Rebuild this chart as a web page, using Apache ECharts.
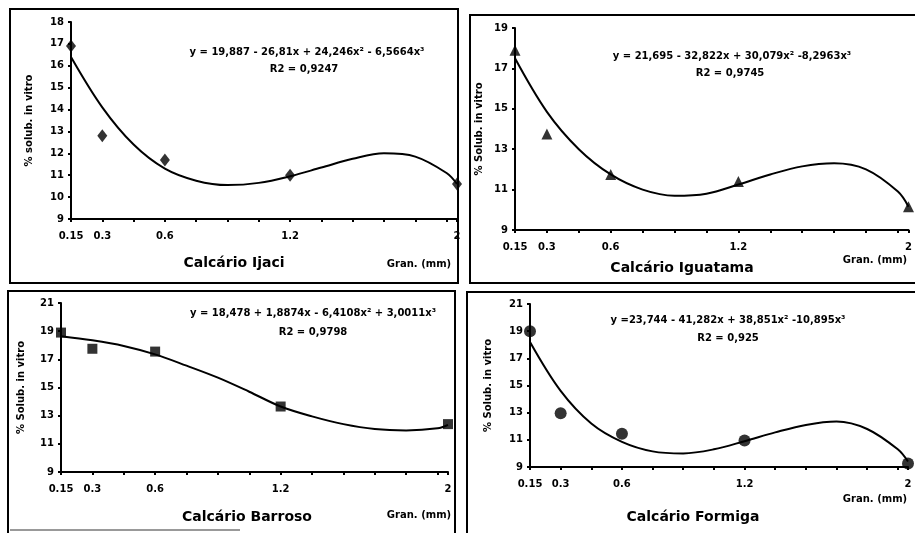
<!DOCTYPE html>
<html>
<head>
<meta charset="utf-8">
<script src="https://cdn.jsdelivr.net/npm/echarts@6/dist/echarts.min.js"></script>
<style>
  html, body { margin: 0; padding: 0; background: #fff; }
  #chart { width: 915px; height: 533px; }
</style>
</head>
<body>
<div id="chart"></div>
<script>
// granulometria (mm) dos pontos observados
const granPts = [0.15, 0.3, 0.6, 1.2, 2];
const ijaciObs = [16.9, 12.8, 11.7, 11.0, 10.6];
const iguatamaObs = [17.9, 13.75, 11.75, 11.4, 10.15];
const barrosoObs = [18.9, 17.75, 17.55, 13.65, 12.4];
const formigaObs = [19.0, 12.95, 11.45, 10.95, 9.25];

// curva ajustada
const fitX = [0.15, 0.3, 0.45, 0.6, 0.75, 0.9, 1.05, 1.2, 1.35, 1.5, 1.65, 1.8, 1.95, 2];
const ijaciFit = [16.4, 14.1, 12.4, 11.3, 10.75, 10.55, 10.65, 10.95, 11.35, 11.75, 12.0, 11.85, 11.1, 10.6];
const iguatamaFit = [17.5, 14.85, 13.0, 11.75, 11.0, 10.7, 10.8, 11.25, 11.75, 12.15, 12.3, 12.0, 10.9, 10.15];
const barrosoFit = [18.64, 18.35, 17.95, 17.35, 16.55, 15.7, 14.7, 13.65, 12.95, 12.4, 12.05, 11.95, 12.1, 12.35];
const formigaFit = [18.2, 14.6, 12.2, 10.85, 10.15, 10.0, 10.3, 10.9, 11.55, 12.1, 12.35, 11.8, 10.3, 9.4];

const xLabels = [0.15, 0.3, 0.6, 1.2, 2];
const titles = ['Calcário Ijaci', 'Calcário Iguatama', 'Calcário Barroso', 'Calcário Formiga'];
const yNames = ['% solub. in vitro', '% Solub. in vitro', '% Solub. in vitro', '% Solub. in vitro'];
const equations = [
  'y = 19,887 - 26,81x + 24,246x² - 6,5664x³',
  'y = 21,695 - 32,822x + 30,079x² -8,2963x³',
  'y = 18,478 + 1,8874x - 6,4108x² + 3,0011x³',
  'y =23,744 - 41,282x + 38,851x² -10,895x³'
];
const r2Texts = ['R2 = 0,9247', 'R2 = 0,9745', 'R2 = 0,9798', 'R2 = 0,925'];

const obsSets = [ijaciObs, iguatamaObs, barrosoObs, formigaObs];
const fitSets = [ijaciFit, iguatamaFit, barrosoFit, formigaFit];

// posicao de cada quadro
const layout = [
  { grid: { left: 71, top: 22, width: 386, height: 197 }, box: [10, 9, 448, 274], yMin: 9, yMax: 18, yInt: 1, gap: 37,
    symbol: 'diamond', size: [10, 13], eq: [307, 52], r2: [304, 69], title: [234, 263], gran: [419, 264] },
  { grid: { left: 515, top: 28, width: 395, height: 202 }, box: [470, 15, 460, 268], yMin: 9, yMax: 19, yInt: 2, gap: 31,
    symbol: 'triangle', size: 11, eq: [732, 56], r2: [730, 73], title: [682, 268], gran: [875, 260] },
  { grid: { left: 61, top: 303, width: 387, height: 169 }, box: [8, 291, 447, 260], yMin: 9, yMax: 21, yInt: 2, gap: 35,
    symbol: 'rect', size: 10, eq: [313, 313], r2: [313, 332], title: [247, 517], gran: [419, 515] },
  { grid: { left: 530, top: 304, width: 378, height: 163 }, box: [467, 292, 460, 260], yMin: 9, yMax: 21, yInt: 2, gap: 37,
    symbol: 'circle', size: 12, eq: [728, 320], r2: [728, 338], title: [693, 517], gran: [875, 499] }
];

const font = 'DejaVu Sans, Liberation Sans, sans-serif';
const chart = echarts.init(document.getElementById('chart'));

const grids = [], xAxes = [], yAxes = [], series = [], graphics = [];

layout.forEach(function (p, i) {
  grids.push(p.grid);
  xAxes.push({
    type: 'value', gridIndex: i, min: 0.15, max: 2, interval: 0.15,
    splitLine: { show: false },
    axisLine: { lineStyle: { color: '#000', width: 2 } },
    axisTick: { length: 3, lineStyle: { color: '#000', width: 2 } },
    axisLabel: {
      customValues: xLabels, margin: 12,
      color: '#000', fontFamily: font, fontWeight: 'bold', fontSize: 10,
      formatter: function (v) { return String(+v.toFixed(2)); }
    }
  });
  yAxes.push({
    type: 'value', gridIndex: i, min: p.yMin, max: p.yMax, interval: p.yInt,
    name: yNames[i], nameLocation: 'middle', nameRotate: 90, nameGap: p.gap,
    nameTextStyle: { color: '#000', fontFamily: font, fontWeight: 'bold', fontSize: 10 },
    splitLine: { show: false },
    axisLine: { show: true, lineStyle: { color: '#000', width: 2 } },
    axisTick: { show: true, length: 3, lineStyle: { color: '#000', width: 2 } },
    axisLabel: { margin: 7, color: '#000', fontFamily: font, fontWeight: 'bold', fontSize: 10 }
  });
  series.push({
    type: 'line', xAxisIndex: i, yAxisIndex: i, smooth: 0.35, symbol: 'none', clip: false,
    lineStyle: { color: '#000', width: 2 },
    data: fitX.map(function (x, k) { return [x, fitSets[i][k]]; }),
    z: 2
  });
  series.push({
    type: 'scatter', xAxisIndex: i, yAxisIndex: i, symbol: p.symbol, symbolSize: p.size, clip: false,
    itemStyle: { color: '#000' },
    data: granPts.map(function (x, k) { return [x, obsSets[i][k]]; }),
    z: 3
  });

  // moldura do quadro
  graphics.push({
    type: 'rect', shape: { x: p.box[0], y: p.box[1], width: p.box[2], height: p.box[3] },
    style: { fill: null, stroke: '#000', lineWidth: 2 }, z: 10
  });
  const txt = function (pos, text, size) {
    return {
      type: 'text', x: pos[0], y: pos[1], z: 10,
      style: { text: text, fill: '#000', font: 'bold ' + size + 'px ' + font, textAlign: 'center', textVerticalAlign: 'middle' }
    };
  };
  graphics.push(txt(p.eq, equations[i], 10));
  graphics.push(txt(p.r2, r2Texts[i], 10));
  graphics.push(txt(p.title, titles[i], 14));
  graphics.push(txt(p.gran, 'Gran. (mm)', 10));
});

// linha cinza no canto inferior
graphics.push({
  type: 'line', shape: { x1: 10, y1: 530, x2: 240, y2: 530 },
  style: { stroke: '#999', lineWidth: 2 }, z: 10
});

chart.setOption({
  backgroundColor: '#fff',
  animation: false,
  grid: grids,
  xAxis: xAxes,
  yAxis: yAxes,
  series: series,
  graphic: graphics
});
</script>
</body>
</html>
